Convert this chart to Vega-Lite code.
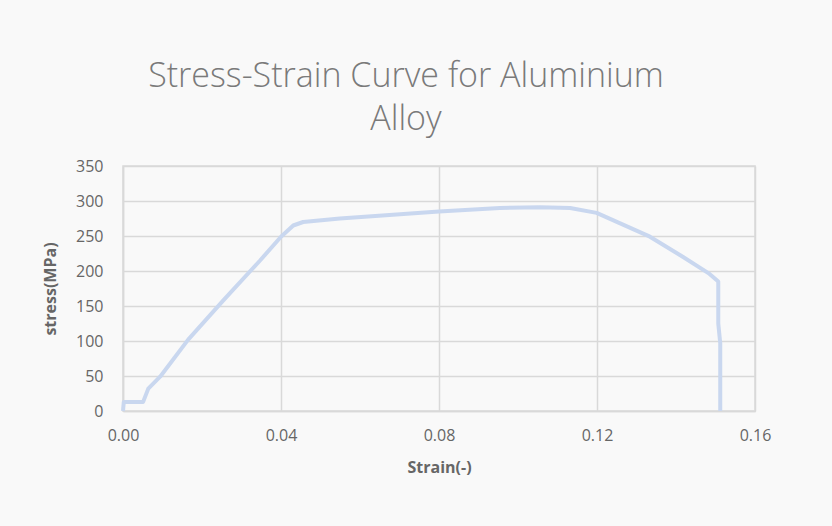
{
  "$schema": "https://vega.github.io/schema/vega-lite/v6.json",
  "autosize": {"type": "none"},
  "width": 632,
  "height": 245,
  "padding": {"left": 123, "top": 166, "right": 77, "bottom": 115},
  "background": "#f9f9f9",
  "title": {
    "text": ["Stress-Strain Curve for Aluminium", "Alloy"],
    "font": "Open Sans",
    "fontWeight": 300,
    "fontSize": 34,
    "lineHeight": 43,
    "color": "#7a7a7a",
    "anchor": "middle",
    "dx": -33,
    "offset": 21
  },
  "data": {
    "values": [
      {"i": 0, "strain": 0.0, "stress": 0},
      {"i": 1, "strain": 0.0002, "stress": 13},
      {"i": 2, "strain": 0.0051, "stress": 13},
      {"i": 3, "strain": 0.0064, "stress": 32},
      {"i": 4, "strain": 0.0094, "stress": 49},
      {"i": 5, "strain": 0.0165, "stress": 102},
      {"i": 6, "strain": 0.0254, "stress": 158},
      {"i": 7, "strain": 0.0347, "stress": 215},
      {"i": 8, "strain": 0.040, "stress": 249},
      {"i": 9, "strain": 0.0431, "stress": 265},
      {"i": 10, "strain": 0.0456, "stress": 270},
      {"i": 11, "strain": 0.0549, "stress": 275},
      {"i": 12, "strain": 0.080, "stress": 285},
      {"i": 13, "strain": 0.0954, "stress": 290},
      {"i": 14, "strain": 0.1056, "stress": 291},
      {"i": 15, "strain": 0.1132, "stress": 290},
      {"i": 16, "strain": 0.1199, "stress": 283},
      {"i": 17, "strain": 0.1334, "stress": 249},
      {"i": 18, "strain": 0.1418, "stress": 220},
      {"i": 19, "strain": 0.1482, "stress": 197},
      {"i": 20, "strain": 0.1507, "stress": 185},
      {"i": 21, "strain": 0.1507, "stress": 125},
      {"i": 22, "strain": 0.1512, "stress": 97},
      {"i": 23, "strain": 0.1512, "stress": 0}
    ]
  },
  "mark": {"type": "line", "color": "#c9d7ef", "strokeWidth": 4, "interpolate": "linear", "strokeJoin": "round", "strokeCap": "butt"},
  "encoding": {
    "order": {"field": "i", "type": "quantitative"},
    "x": {
      "field": "strain", "type": "quantitative",
      "scale": {"domain": [0, 0.16], "nice": false},
      "axis": {"values": [0, 0.04, 0.08, 0.12, 0.16], "format": ".2f", "title": "Strain(-)", "titlePadding": 16, "labelFlush": false, "labelPadding": 16}
    },
    "y": {
      "field": "stress", "type": "quantitative",
      "scale": {"domain": [0, 350], "nice": false},
      "axis": {"values": [0, 50, 100, 150, 200, 250, 300, 350], "title": "stress(MPa)", "titlePadding": 17, "labelPadding": 20}
    }
  },
  "config": {
    "view": {"stroke": "#d9d9d9", "strokeWidth": 1.5},
    "axis": {
      "labelFont": "Open Sans",
      "labelFontSize": 16,
      "labelColor": "#666666",
      "titleFont": "Open Sans",
      "titleFontSize": 16,
      "titleFontWeight": "bold",
      "titleColor": "#666666",
      "gridColor": "#d9d9d9",
      "gridWidth": 1.5,
      "domainColor": "#d9d9d9",
      "domainWidth": 1.5,
      "ticks": false
    }
  }
}
